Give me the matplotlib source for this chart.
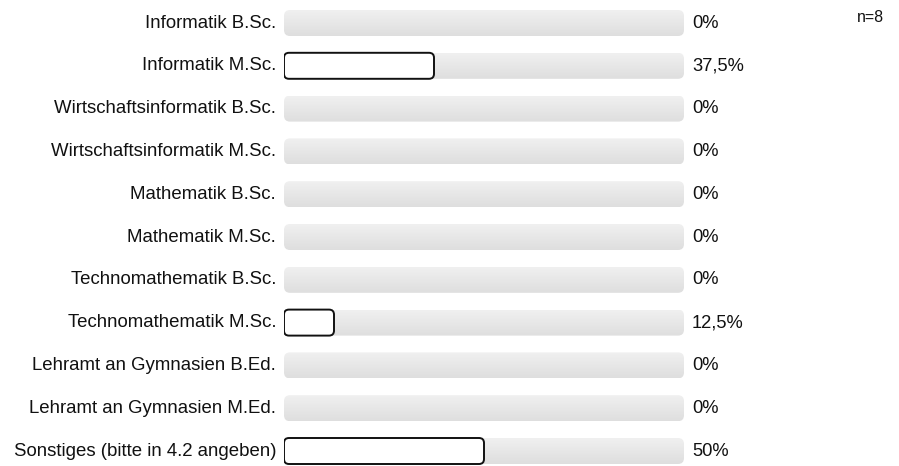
import matplotlib
matplotlib.use("Agg")
import matplotlib.pyplot as plt
import numpy as np
from matplotlib.patches import FancyBboxPatch

categories = [
    "Informatik B.Sc.",
    "Informatik M.Sc.",
    "Wirtschaftsinformatik B.Sc.",
    "Wirtschaftsinformatik M.Sc.",
    "Mathematik B.Sc.",
    "Mathematik M.Sc.",
    "Technomathematik B.Sc.",
    "Technomathematik M.Sc.",
    "Lehramt an Gymnasien B.Ed.",
    "Lehramt an Gymnasien M.Ed.",
    "Sonstiges (bitte in 4.2 angeben)",
]
values = [0, 37.5, 0, 0, 0, 0, 0, 12.5, 0, 0, 50]
value_labels = ["0%", "37,5%", "0%", "0%", "0%", "0%", "0%", "12,5%", "0%", "0%", "50%"]
n_label = "n=8"

plt.rcParams['font.family'] = ['Liberation Sans', 'DejaVu Sans']

W, H = 899, 466
fig = plt.figure(figsize=(W / 100, H / 100), dpi=100)
x0, x1 = 284, 684
row0, step = 23, 42.8
ax = fig.add_axes([x0 / W, 0, (x1 - x0) / W, 1])
ax.set_xlim(0, 100)
ax.set_ylim((H - row0) / step, -row0 / step)
ax.axis('off')

xu = 100 / (x1 - x0)      # data x units per pixel
yu = 1 / step             # data y units per pixel
aspect = yu / xu

bar_h = 26 * yu
box_h = 26 * yu
grad = np.linspace(0.94, 0.87, 64).reshape(-1, 1)

for i, (cat, v, lab) in enumerate(zip(categories, values, value_labels)):
    bg = FancyBboxPatch((0, i - bar_h / 2), 100, bar_h,
                        boxstyle=f"round,pad=0,rounding_size={6 * xu}",
                        mutation_aspect=aspect, facecolor='none', edgecolor='none')
    ax.add_patch(bg)
    im = ax.imshow(grad, cmap='gray', vmin=0, vmax=1, aspect='auto',
                   extent=(0, 100, i + bar_h / 2, i - bar_h / 2), zorder=1,
                   interpolation='bilinear')
    im.set_clip_path(bg)
    if v > 0:
        box = FancyBboxPatch((0, i - box_h / 2), v, box_h,
                             boxstyle=f"round,pad=0,rounding_size={5 * xu}",
                             mutation_aspect=aspect, facecolor='white',
                             edgecolor='#111111', linewidth=1.4, zorder=3)
        ax.add_patch(box)
    ax.text(-8 * xu, i, cat, ha='right', va='center', fontsize=13.4, color='#111111')
    ax.text(100 + 8 * xu, i, lab, ha='left', va='center', fontsize=13.2, color='#111111')

fig.text(870 / W, 1 - 17 / H, n_label, ha='center', va='center', fontsize=11.5, color='#111111')

ax.set_xlim(0, 100)
ax.set_ylim((H - row0) / step, -row0 / step)
fig.savefig("out.png", dpi=100, facecolor='white')
